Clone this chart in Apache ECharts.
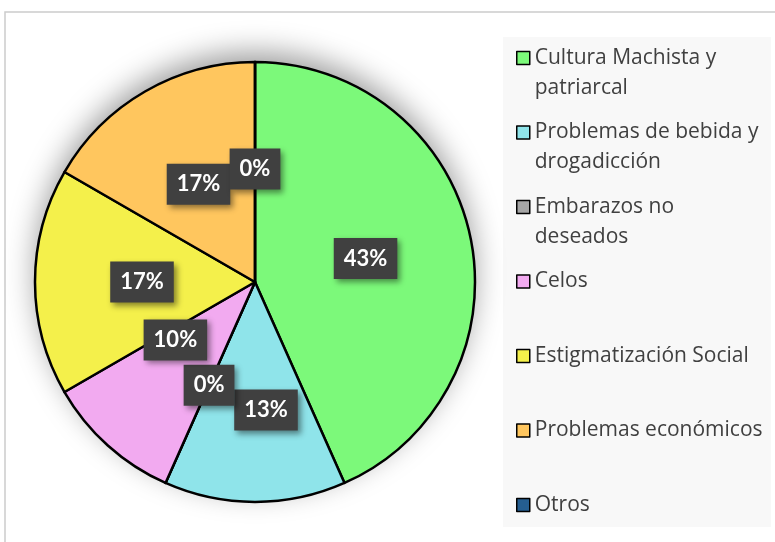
<!DOCTYPE html>
<html>
<head>
<meta charset="utf-8">
<script src="https://cdn.jsdelivr.net/npm/echarts@6/dist/echarts.min.js"></script>
<style>
  html, body { margin: 0; padding: 0; background: #fff; }
  #chart { width: 775px; height: 542px; }
</style>
</head>
<body>
<div id="chart"></div>
<script>
'use strict';

// respondents per cause (shown as rounded percentages)
var categories = [
    'Cultura Machista y patriarcal',
    'Problemas de bebida y drogadicción',
    'Embarazos no deseados',
    'Celos',
    'Estigmatización Social',
    'Problemas económicos',
    'Otros'
];
var counts = [13, 4, 0, 3, 5, 5, 0];
var colors = ['#7CF97A', '#8FE4EA', '#A5A5A5', '#F2AAF0', '#F4F04B', '#FFC65E', '#255E91'];
// how the legend wraps each name (every entry takes two lines of room)
var legendText = [
    'Cultura Machista y\npatriarcal',
    'Problemas de bebida y\ndrogadicción',
    'Embarazos no\ndeseados',
    'Celos\n ',
    'Estigmatización Social\n ',
    'Problemas económicos\n ',
    'Otros\n '
];

var dom = document.getElementById('chart');
var chart = echarts.init(dom);

var pieData = categories.map(function (name, i) {
    return { name: name, value: counts[i], itemStyle: { color: colors[i] } };
});

// labels Excel nudged away from each other
var labelShift = {
    1: { dx: 11, dy: 15 },
    3: { dx: -4, dy: -26 }
};

// 13x13 square sitting at the top of a 13x43 box, so it lines up with the first text line
var legendIcon = 'path://M0,0L13,0L13,13L0,13Z M0,43L0,43';

var option = {
    backgroundColor: '#ffffff',
    animation: false,
    graphic: [
        {
            type: 'rect',
            shape: { x: 5, y: 12, width: 800, height: 600 },
            style: { fill: 'none', stroke: '#cccccc', lineWidth: 1.5 },
            silent: true
        },
        {
            type: 'rect',
            shape: { x: 503, y: 37, width: 268, height: 490 },
            style: { fill: '#f8f8f8' },
            silent: true
        }
    ],
    legend: {
        orient: 'vertical',
        left: 516,
        top: 43,
        height: 530,
        padding: 0,
        itemGap: 14.5,
        itemWidth: 13,
        itemHeight: 43,
        selectedMode: false,
        icon: legendIcon,
        itemStyle: { borderColor: '#000', borderWidth: 1.5 },
        data: categories,
        formatter: function (name) {
            return legendText[categories.indexOf(name)];
        },
        textStyle: {
            fontFamily: 'Open Sans',
            fontSize: 21,
            lineHeight: 30,
            color: '#404040'
        }
    },
    series: [
        {
            // soft shadow behind the pie
            type: 'pie',
            center: [255, 282],
            radius: 219,
            silent: true,
            z: 1,
            label: { show: false },
            labelLine: { show: false },
            itemStyle: {
                color: '#ffffff',
                shadowBlur: 30,
                shadowColor: 'rgba(0,0,0,0.4)',
                shadowOffsetY: -10
            },
            data: [{ name: '_shadow', value: 1 }]
        },
        {
            type: 'pie',
            center: [255, 282],
            radius: 220,
            startAngle: 90,
            clockwise: true,
            z: 2,
            percentPrecision: 0,
            avoidLabelOverlap: false,
            itemStyle: { borderColor: '#000', borderWidth: 2.5 },
            label: {
                show: true,
                position: 'inside',
                formatter: '{d}%',
                fontFamily: 'Lato',
                fontWeight: 'bold',
                fontSize: 22,
                color: '#ffffff',
                backgroundColor: '#404040',
                padding: [10, 10, 9, 10],
                shadowColor: 'rgba(0,0,0,0.45)',
                shadowBlur: 6,
                shadowOffsetX: 3,
                shadowOffsetY: 3
            },
            labelLayout: function (params) {
                return labelShift[params.dataIndex] || {};
            },
            emphasis: { disabled: true },
            data: pieData
        }
    ]
};

if (option && typeof option === 'object') {
    chart.setOption(option);
}
</script>
</body>
</html>
